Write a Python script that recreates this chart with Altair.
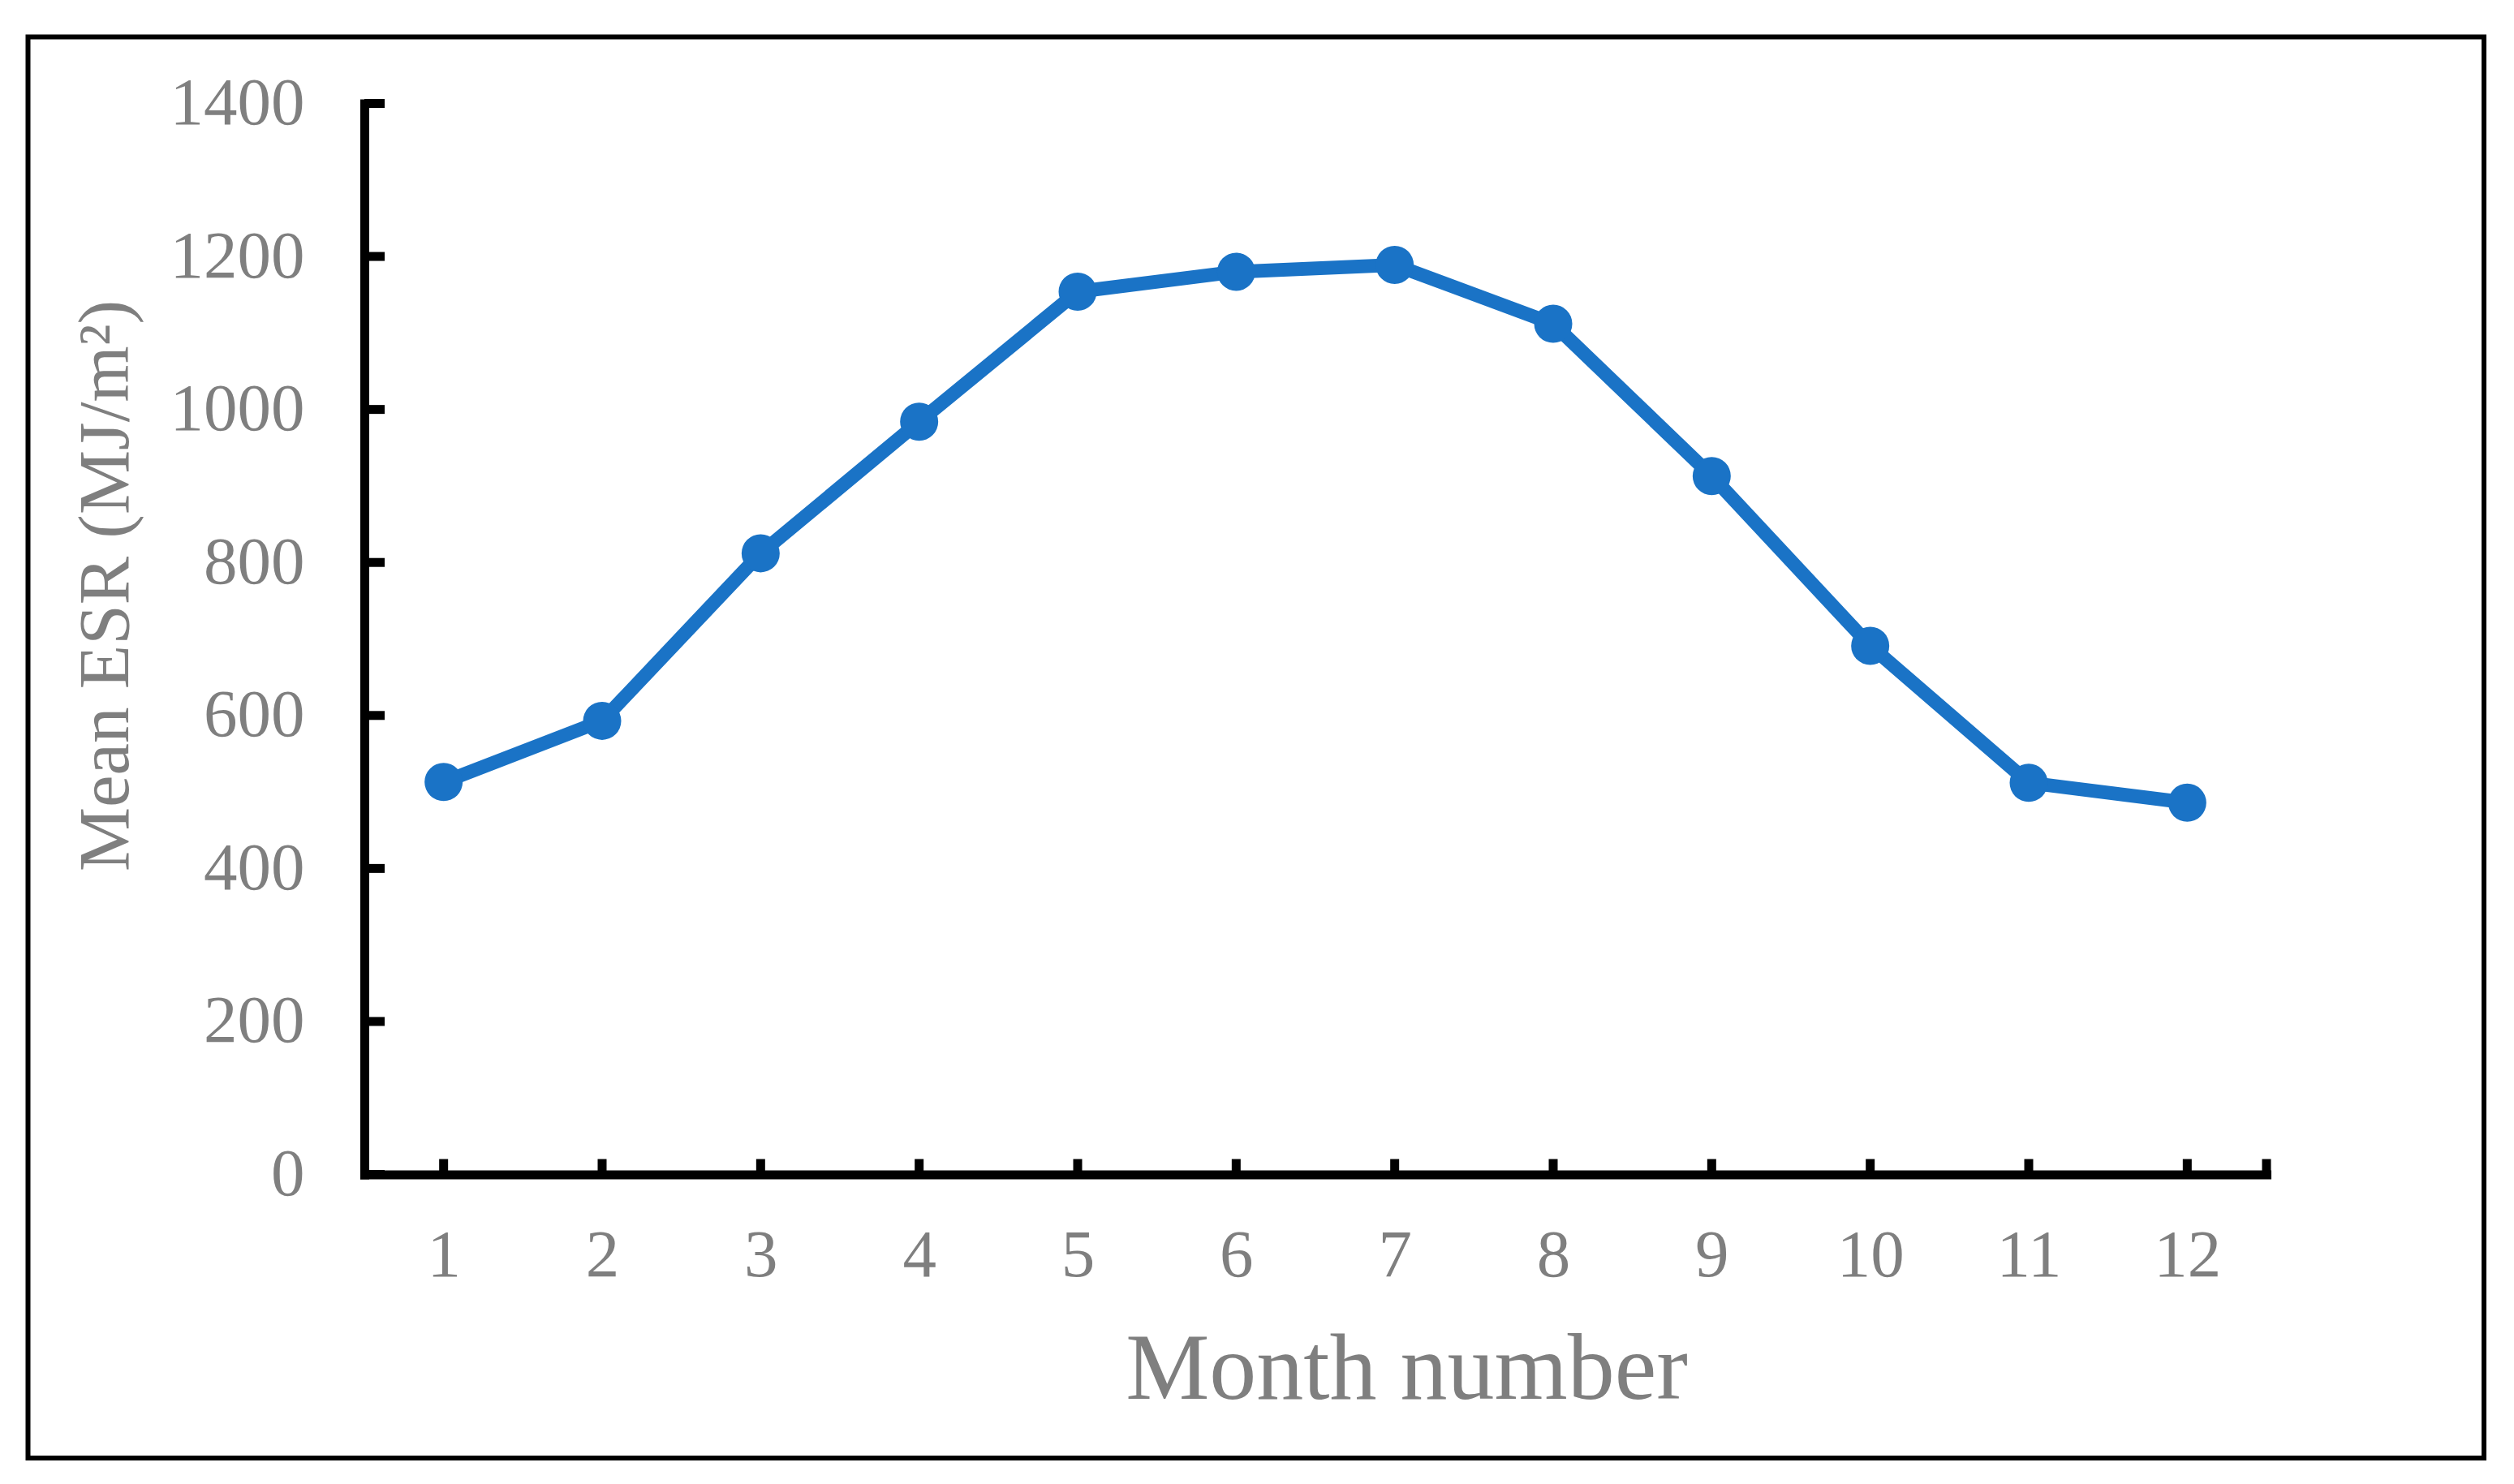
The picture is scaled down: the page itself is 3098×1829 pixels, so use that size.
import altair as alt
import pandas as pd

# Data
months = [1, 2, 3, 4, 5, 6, 7, 8, 9, 10, 11, 12]
mean_esr = [513, 593, 812, 984, 1154, 1180, 1189, 1112, 913, 691, 512, 486]

y_tick_values = [0, 200, 400, 600, 800, 1000, 1200, 1400]
x_tick_values = [1, 2, 3, 4, 5, 6, 7, 8, 9, 10, 11, 12, 12.5]

FONT = "Liberation Serif"
GRAY = "#7f7f7f"
BLUE = "#1a73c6"

W, H = 2344, 1320

df = pd.DataFrame({"month": months, "esr": mean_esr})
ydf = pd.DataFrame({"v": y_tick_values})
xdf = pd.DataFrame({"m": x_tick_values})
one = pd.DataFrame({"a": [0]})

xscale = alt.Scale(domain=[0.5, 12.5], nice=False, zero=False)
yscale = alt.Scale(domain=[0, 1400], nice=False)

x_axis = alt.Axis(
    values=months, format="d", ticks=False, grid=False,
    labelFont=FONT, labelFontSize=83, labelColor=GRAY, labelPadding=59,
    labelFlush=False, labelOverlap=False,
    domainColor="black", domainWidth=11, domainCap="square",
    title="Month number", titleFont=FONT, titleFontSize=116, titleColor=GRAY,
    titleFontWeight="normal", titleX=1284, titleY=276,
    titleAlign="center", titleBaseline="alphabetic",
)
y_axis = alt.Axis(
    values=y_tick_values, format="d", ticks=False, grid=False,
    labelFont=FONT, labelFontSize=83, labelColor=GRAY, labelPadding=74,
    labelFlush=False, labelOverlap=False,
    domainColor="black", domainWidth=11, domainCap="square",
    title="Mean ESR (MJ/m²)", titleFont=FONT, titleFontSize=89, titleColor=GRAY,
    titleFontWeight="normal", titleAngle=270, titleX=-292, titleY=594,
    titleAlign="center", titleBaseline="alphabetic",
)

line = alt.Chart(df).mark_line(color=BLUE, strokeWidth=17).encode(
    x=alt.X("month:Q", scale=xscale, axis=x_axis),
    y=alt.Y("esr:Q", scale=yscale, axis=y_axis),
)
points = alt.Chart(df).mark_point(
    shape="circle", filled=True, color=BLUE, opacity=1, size=2209
).encode(
    x=alt.X("month:Q", scale=xscale),
    y=alt.Y("esr:Q", scale=yscale),
)

yticks = alt.Chart(ydf).mark_rule(color="black", strokeWidth=11).encode(
    y=alt.Y("v:Q", scale=yscale),
    x=alt.value(0),
    x2=alt.value(25),
)
xticks = alt.Chart(xdf).mark_rule(color="black", strokeWidth=11).encode(
    x=alt.X("m:Q", scale=xscale),
    y=alt.value(H),
    y2=alt.value(H - 19),
)

border = alt.Chart(one).mark_rect(
    filled=False, stroke="black", strokeWidth=6, fill=None
).encode(
    x=alt.value(-414.5),
    x2=alt.value(2612),
    y=alt.value(-82),
    y2=alt.value(1669.5),
)

chart = alt.layer(border, line, points, yticks, xticks).properties(
    width=W, height=H,
    autosize=alt.AutoSizeParams(type="none"),
    padding={"left": 441, "top": 119.5, "right": 287, "bottom": 367},
    background="white",
).configure_view(stroke=None)

chart.save("out.html", embed_options={"renderer": "svg", "actions": False})
